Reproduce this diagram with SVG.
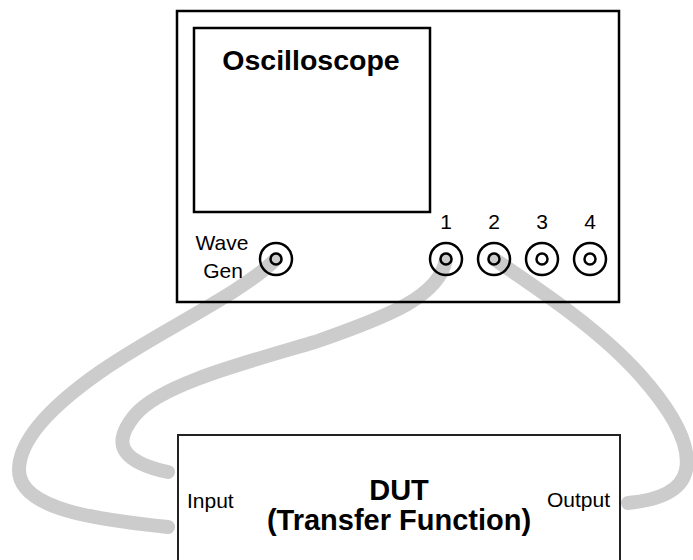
<svg xmlns="http://www.w3.org/2000/svg" width="693" height="560" viewBox="0 0 693 560">
<style>
.cable{fill:none;stroke:#cccccc;stroke-width:14;stroke-linecap:round;stroke-linejoin:round}
.box{fill:none;stroke:#000;stroke-width:2.5}
.dut{fill:none;stroke:#222;stroke-width:2}
.ring{fill:none;stroke:#000;stroke-width:2.5}
.lbl{font-family:"Liberation Sans",Arial,sans-serif;font-size:21px;fill:#000}
.title{font-family:"Liberation Sans",Arial,sans-serif;font-size:28.5px;font-weight:bold;fill:#000}
.dtitle{font-family:"Liberation Sans",Arial,sans-serif;font-size:29px;font-weight:bold;fill:#000}
</style>
<rect width="693" height="560" fill="#fff"/>
<g id="connectors">
<path class="cable" d="M276,259 C240,295 160,330 100,372 C50,407 19,440 19,470 C19,510 100,520 168,527"/>
<path class="cable" d="M446,259 C440,296 390,316 315,342 C240,364 160,385 135,415 C117,437 118,452 140,463 C150,468 158,470 168,472"/>
<path class="cable" d="M494,259 C540,290 600,330 640,375 C680,420 690,450 686,470 C682,490 660,500 628,503"/>
</g>
<g id="oscilloscope">
<rect class="box" x="177" y="11" width="442" height="291"/>
<rect class="box" x="194" y="28" width="236" height="184"/>
<text class="title" x="311" y="70" text-anchor="middle">Oscilloscope</text>
</g>
<g id="wavegen">
<circle class="ring" cx="276" cy="259" r="16"/>
<circle class="ring" cx="276" cy="259" r="5.5"/>
<text class="lbl" x="222" y="250" text-anchor="middle">Wave</text>
<text class="lbl" x="223" y="278" text-anchor="middle">Gen</text>
</g>
<g id="ch1">
<circle class="ring" cx="446" cy="259" r="16"/>
<circle class="ring" cx="446" cy="259" r="5.5"/>
<text class="lbl" x="446" y="229" text-anchor="middle">1</text>
</g>
<g id="ch2">
<circle class="ring" cx="494" cy="259" r="16"/>
<circle class="ring" cx="494" cy="259" r="5.5"/>
<text class="lbl" x="494" y="229" text-anchor="middle">2</text>
</g>
<g id="ch3">
<circle class="ring" cx="542" cy="259" r="16"/>
<circle class="ring" cx="542" cy="259" r="5.5"/>
<text class="lbl" x="542" y="229" text-anchor="middle">3</text>
</g>
<g id="ch4">
<circle class="ring" cx="590" cy="259" r="16"/>
<circle class="ring" cx="590" cy="259" r="5.5"/>
<text class="lbl" x="590" y="229" text-anchor="middle">4</text>
</g>
<g id="dut">
<rect class="dut" x="178" y="435" width="442" height="140"/>
<text class="dtitle" x="399" y="500" text-anchor="middle">DUT</text>
<text class="dtitle" x="399" y="530" text-anchor="middle">(Transfer Function)</text>
<text class="lbl" x="187" y="508">Input</text>
<text class="lbl" x="610" y="507" text-anchor="end">Output</text>
</g>
</svg>
